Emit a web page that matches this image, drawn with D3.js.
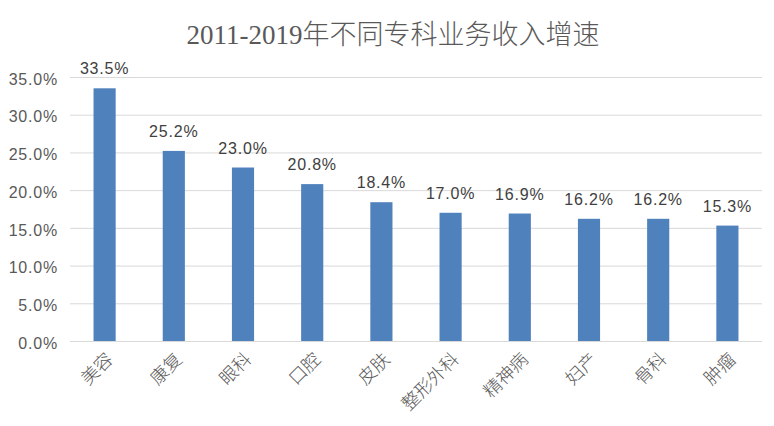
<!DOCTYPE html>
<html>
<head>
<meta charset="utf-8">
<script src="https://cdn.jsdelivr.net/npm/d3@7"></script>
<style>
  body { margin: 0; background: #fff; }
  .title { font-family: "Liberation Serif", "Noto Sans CJK SC", serif; font-size: 27px; font-weight: 300; fill: #595959; }
  .tick text { font-family: "Liberation Sans", Arial, sans-serif; font-size: 16px; letter-spacing: 0.8px; fill: #595959; }
  .x-label { font-family: "Liberation Serif", "Noto Sans CJK SC", serif; font-size: 18px; font-weight: 300; fill: #595959; }
  .value-label { font-family: "Liberation Sans", Arial, sans-serif; font-size: 16px; letter-spacing: 0.8px; fill: #404040; }
</style>
</head>
<body>
<div id="wrapper"></div>
<script>
// data
const categories = ["美容", "康复", "眼科", "口腔", "皮肤", "整形外科", "精神病", "妇产", "骨科", "肿瘤"]
const growthRates = [33.5, 25.2, 23.0, 20.8, 18.4, 17.0, 16.9, 16.2, 16.2, 15.3]
const yTicks = [0, 5, 10, 15, 20, 25, 30, 35]
const titleText = "2011-2019年不同专科业务收入增速"

function drawChart() {
  const dimensions = {
    width: 774,
    height: 426,
    margin: { top: 77, right: 12, bottom: 85, left: 70 }
  }
  dimensions.boundedWidth = dimensions.width - dimensions.margin.left - dimensions.margin.right
  dimensions.boundedHeight = dimensions.height - dimensions.margin.top - dimensions.margin.bottom

  const wrapper = d3.select("#wrapper")
    .append("svg")
      .attr("width", dimensions.width)
      .attr("height", dimensions.height)

  const bounds = wrapper.append("g")
      .attr("transform", `translate(${dimensions.margin.left}, ${dimensions.margin.top})`)

  // scales
  const xScale = d3.scaleBand()
    .domain(categories)
    .range([0, dimensions.boundedWidth])
    .paddingInner(0.68)
    .paddingOuter(0.34)

  const yScale = d3.scaleLinear()
    .domain([0, 35])
    .range([dimensions.boundedHeight, 0])

  // gridlines + y axis
  const yAxis = d3.axisLeft(yScale)
    .tickValues(yTicks)
    .tickFormat(d => d.toFixed(1) + "%")
    .tickSize(-dimensions.boundedWidth)
    .tickPadding(12)

  const yAxisGroup = bounds.append("g").call(yAxis)
  yAxisGroup.select(".domain").remove()
  yAxisGroup.selectAll(".tick line")
      .attr("stroke", "#d9d9d9")
      .attr("stroke-width", 1)
  yAxisGroup.selectAll(".tick text").attr("dy", "0.45em")

  // bars
  bounds.append("g")
    .selectAll("rect")
    .data(categories)
    .join("rect")
      .attr("x", d => xScale(d))
      .attr("y", (d, i) => yScale(growthRates[i]))
      .attr("width", xScale.bandwidth())
      .attr("height", (d, i) => yScale(0) - yScale(growthRates[i]))
      .attr("fill", "#4f81bd")

  // value labels
  bounds.append("g")
    .selectAll("text")
    .data(categories)
    .join("text")
      .attr("class", "value-label")
      .attr("x", d => xScale(d) + xScale.bandwidth() / 2)
      .attr("y", (d, i) => yScale(growthRates[i]) - 14)
      .attr("text-anchor", "middle")
      .text((d, i) => growthRates[i].toFixed(1) + "%")

  // x labels, rotated
  bounds.append("g")
    .selectAll("text")
    .data(categories)
    .join("text")
      .attr("class", "x-label")
      .attr("text-anchor", "end")
      .attr("transform", d =>
        `translate(${xScale(d) + xScale.bandwidth() / 2 + 5}, ${dimensions.boundedHeight + 15}) rotate(-45)`)
      .attr("dy", "0.35em")
      .text(d => d)

  // title
  wrapper.append("text")
      .attr("class", "title")
      .attr("x", 393)
      .attr("y", 44)
      .attr("text-anchor", "middle")
      .text(titleText)
}
drawChart()
</script>
</body>
</html>
